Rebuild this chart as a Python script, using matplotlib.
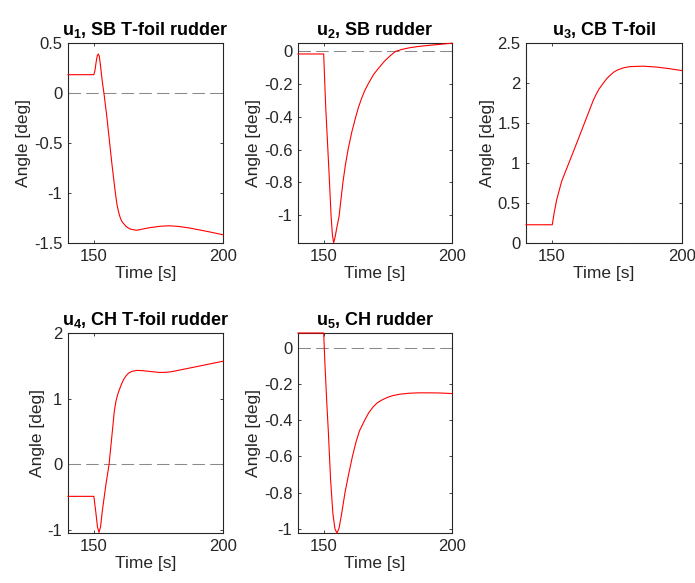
import numpy as np
import matplotlib
matplotlib.use('Agg')
import matplotlib.pyplot as plt

plt.rcParams['font.family'] = ['Liberation Sans', 'DejaVu Sans']
plt.rcParams['mathtext.fontset'] = 'custom'
plt.rcParams['mathtext.rm'] = 'Liberation Sans'
plt.rcParams['mathtext.bf'] = 'Liberation Sans:bold'

# values (time [s], angle [deg])
t1 = [140, 150, 150.4, 150.9, 151.3, 151.7, 152.1, 152.6, 153.2, 153.9, 155, 156, 157, 158.2,
      158.6, 159, 159.5, 160, 160.5, 161, 161.5, 162.5, 164, 166.5, 169, 172, 176, 179.5, 183,
      187, 191, 195, 200]
u1 = [0.183, 0.183, 0.22, 0.31, 0.37, 0.39, 0.37, 0.27, 0.13, 0.0, -0.23, -0.47, -0.71, -0.97,
      -1.05, -1.12, -1.18, -1.23, -1.265, -1.29, -1.305, -1.335, -1.36, -1.373, -1.36, -1.345,
      -1.332, -1.328, -1.335, -1.35, -1.37, -1.39, -1.418]

t2 = [140, 150, 150.8, 152.1, 152.9, 153.4, 153.9, 154.5, 155.2, 156.0, 156.7, 157.5, 158.5,
      159.5, 161, 162.5, 163.6, 164.7, 166, 167.3, 169.5, 171.8, 173.7, 175.7, 178, 180.5,
      183.5, 187, 191.3, 195.5, 200]
u2 = [-0.016, -0.016, -0.34, -0.744, -1.008, -1.12, -1.17, -1.13, -1.07, -1.008, -0.91, -0.8,
      -0.69, -0.6, -0.49, -0.4, -0.34, -0.29, -0.24, -0.2, -0.14, -0.095, -0.06, -0.03, 0.0,
      0.012, 0.022, 0.03, 0.037, 0.043, 0.05]

t3 = [140, 150.1, 150.8, 151.8, 153.7, 160, 165.9, 167, 168, 170, 171.2, 172.5, 173.7, 175,
      177.5, 180, 185, 190, 195, 200]
u3 = [0.228, 0.228, 0.37, 0.54, 0.77, 1.29, 1.785, 1.86, 1.92, 2.01, 2.06, 2.1, 2.135, 2.16,
      2.19, 2.205, 2.21, 2.2, 2.18, 2.155]

t4 = [140, 150, 150.7, 151.4, 152.0, 152.6, 153.3, 154.7, 155.9, 156.6, 157.2, 157.9, 158.5,
      159.2, 159.9, 160.7, 161.5, 162.5, 163.5, 164.7, 166.5, 168.5, 171, 173.5, 175.5, 178,
      180, 185, 190, 195, 200]
u4 = [-0.487, -0.487, -0.705, -0.95, -1.036, -0.95, -0.705, -0.3, 0.0, 0.28, 0.516, 0.8, 0.95,
      1.06, 1.14, 1.22, 1.29, 1.35, 1.39, 1.415, 1.43, 1.428, 1.418, 1.407, 1.40, 1.402, 1.41,
      1.45, 1.49, 1.53, 1.57]

t5 = [140, 150, 150.5, 151.2, 151.8, 152.7, 153.6, 154.4, 155.2, 156.0, 157.0, 158.3, 159.7,
      161.2, 162.6, 164.0, 166.0, 167.5, 169.2, 170.8, 172.5, 174.7, 177.0, 180, 183.5, 187,
      191.3, 195.5, 200]
u5 = [0.081, 0.081, -0.09, -0.3, -0.457, -0.73, -0.916, -1.0, -1.022, -0.995, -0.916, -0.8,
      -0.7, -0.6, -0.52, -0.457, -0.4, -0.36, -0.328, -0.305, -0.29, -0.275, -0.264, -0.256,
      -0.251, -0.249, -0.249, -0.25, -0.253]

titles = [r'$\mathbf{u_1}$, SB T-foil rudder', r'$\mathbf{u_2}$, SB rudder',
          r'$\mathbf{u_3}$, CB T-foil', r'$\mathbf{u_4}$, CH T-foil rudder',
          r'$\mathbf{u_5}$, CH rudder']
series = [(t1, u1), (t2, u2), (t3, u3), (t4, u4), (t5, u5)]
ylims = [(-1.5, 0.5), (-1.17, 0.051), (0, 2.5), (-1.045, 2), (-1.022, 0.081)]
yticks = [np.arange(-1.5, 0.51, 0.5), np.arange(-1.0, 0.01, 0.2), np.arange(0, 2.51, 0.5),
          [-1, 0, 1, 2], np.arange(-1.0, 0.01, 0.2)]
ylabels = [['-1.5', '-1', '-0.5', '0', '0.5'],
           ['-1', '-0.8', '-0.6', '-0.4', '-0.2', '0'],
           ['0', '0.5', '1', '1.5', '2', '2.5'],
           ['-1', '0', '1', '2'],
           ['-1', '-0.8', '-0.6', '-0.4', '-0.2', '0']]

W, H = 695, 583
# axes boxes in pixels: left, top, right, bottom
boxes = [(68, 43, 223, 243), (298, 43, 452, 243), (526, 43, 682, 243),
         (68, 333, 223, 533), (298, 333, 452, 533)]

fig = plt.figure(figsize=(W / 100, H / 100), dpi=100)
dark = '#262626'
for i in range(5):
    l, tp, r, b = boxes[i]
    ax = fig.add_axes([l / W, (H - b) / H, (r - l) / W, (b - tp) / H])
    ax.plot([140, 200], [0, 0], color='#8a8a8a', lw=0.75, dashes=(12, 5))
    ax.plot(series[i][0], series[i][1], color='red', lw=0.8, clip_on=False, zorder=3)
    ax.set_xlim(140, 200)
    ax.set_ylim(*ylims[i])
    ax.set_xticks([150, 200])
    ax.set_yticks(yticks[i])
    ax.set_yticklabels(ylabels[i])
    ax.tick_params(direction='in', length=2.5, width=0.6, colors=dark, labelsize=12,
                   top=True, right=True, pad=4)
    for s in ax.spines.values():
        s.set_color(dark)
        s.set_linewidth(0.8)
    ax.set_title(titles[i], fontsize=13, fontweight='bold', color='black', pad=6)
    ax.set_xlabel('Time [s]', fontsize=12.5, color=dark, labelpad=2)
    ax.set_ylabel('Angle [deg]', fontsize=12.5, color=dark, labelpad=2)

fig.savefig('out.png', dpi=100)
